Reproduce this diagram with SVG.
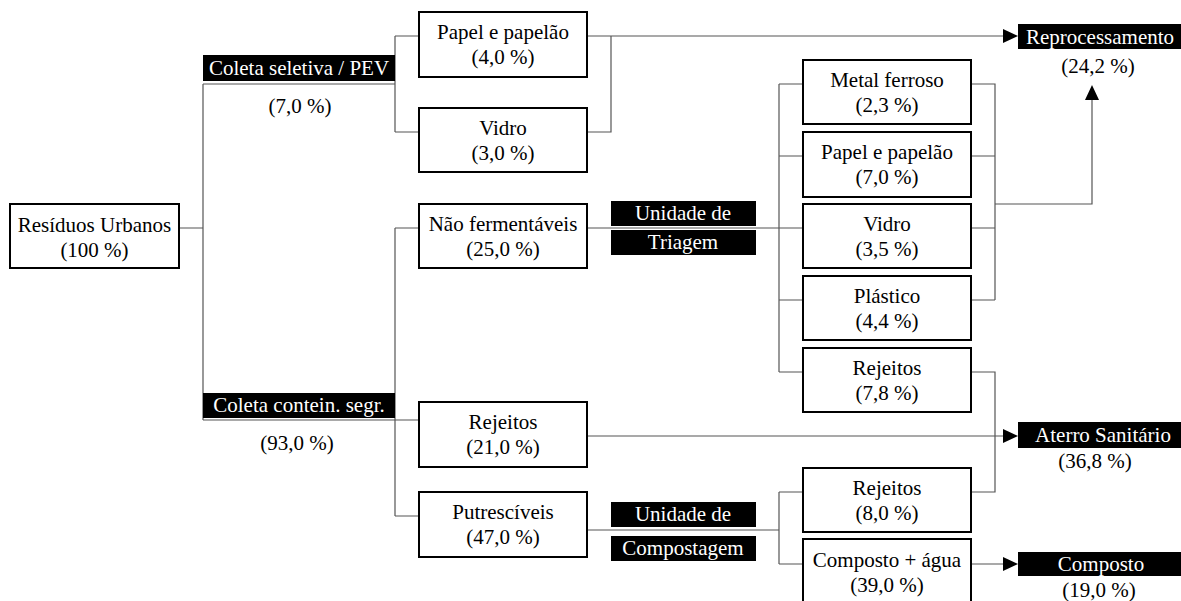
<svg xmlns="http://www.w3.org/2000/svg" width="1181" height="601" viewBox="0 0 1181 601" font-family="'Liberation Serif', 'DejaVu Serif', serif">
  <style>
    .box { fill: #fff; stroke: #000; stroke-width: 2; }
    .tag { fill: #000; }
    .t { font-family: 'Liberation Serif', 'DejaVu Serif', serif; font-size: 21px; fill: #000; text-anchor: middle; }
    .w { fill: #fff; }
    .ln { fill: none; stroke: #555; stroke-width: 1.2; }
    .ah { fill: #000; }
  </style>

  <!-- connectors -->
  <g id="connectors">
    <!-- root splits into two collection streams -->
    <path class="ln" d="M179 228 H203 M203 84 V420 M203 84 H395 M203 420 H395"/>
    <!-- selective collection branches -->
    <path class="ln" d="M395 36 V132 M395 36 H419 M395 132 H419"/>
    <!-- container collection branches -->
    <path class="ln" d="M395 228 V516 M395 228 H419 M395 420 H419 M395 516 H419"/>
    <!-- selective items to reprocessing -->
    <path class="ln" d="M587 36 H1004 M587 132 H611 V36"/>
    <!-- sorting unit -->
    <path class="ln" d="M587 228 H779 M779 84 V372 M779 84 H803 M779 156 H803 M779 228 H803 M779 300 H803 M779 372 H803"/>
    <path class="ln" d="M971 84 H995 V300 M971 156 H995 M971 228 H995 M971 300 H995 M995 204 H1092 V99"/>
    <!-- rejects to landfill -->
    <path class="ln" d="M587 436 H1004 M971 372 H995 V492 H971"/>
    <!-- composting unit -->
    <path class="ln" d="M587 530 H779 M779 492 V564 M779 492 H803 M779 564 H803 M971 564 H1004"/>
    <!-- arrowheads -->
    <polygon class="ah" points="1003,29 1018,36 1003,43"/>
    <polygon class="ah" points="1085,100 1092,85 1099,100"/>
    <polygon class="ah" points="1003,429 1018,436 1003,443"/>
    <polygon class="ah" points="1003,557 1018,564 1003,571"/>
  </g>

  <g id="residuos-urbanos">
    <rect class="box" x="10" y="204" width="169" height="64"/>
    <text class="t" x="94.5" y="232">Resíduos Urbanos</text>
    <text class="t" x="94.5" y="257">(100 %)</text>
  </g>

  <g id="coleta-seletiva">
    <rect class="tag" x="203" y="55" width="192" height="26"/>
    <text class="t w" x="299" y="75">Coleta seletiva / PEV</text>
    <text class="t" x="300" y="113">(7,0 %)</text>
  </g>

  <g id="coleta-contein">
    <rect class="tag" x="203" y="393" width="192" height="25"/>
    <text class="t w" x="299" y="412">Coleta contein. segr.</text>
    <text class="t" x="297" y="450">(93,0 %)</text>
  </g>

  <g id="papel-pev">
    <rect class="box" x="419" y="12" width="168" height="65"/>
    <text class="t" x="503" y="39">Papel e papelão</text>
    <text class="t" x="503" y="64">(4,0 %)</text>
  </g>

  <g id="vidro-pev">
    <rect class="box" x="419" y="108" width="168" height="64"/>
    <text class="t" x="503" y="135">Vidro</text>
    <text class="t" x="503" y="160">(3,0 %)</text>
  </g>

  <g id="nao-fermentaveis">
    <rect class="box" x="419" y="204" width="168" height="64"/>
    <text class="t" x="503" y="231">Não fermentáveis</text>
    <text class="t" x="503" y="256">(25,0 %)</text>
  </g>

  <g id="rejeitos-coleta">
    <rect class="box" x="419" y="402" width="168" height="65"/>
    <text class="t" x="503" y="429">Rejeitos</text>
    <text class="t" x="503" y="454">(21,0 %)</text>
  </g>

  <g id="putresciveis">
    <rect class="box" x="419" y="492" width="168" height="65"/>
    <text class="t" x="503" y="519">Putrescíveis</text>
    <text class="t" x="503" y="544">(47,0 %)</text>
  </g>

  <g id="unidade-triagem">
    <rect class="tag" x="611" y="201" width="145" height="25"/>
    <text class="t w" x="683" y="220">Unidade de</text>
    <rect class="tag" x="611" y="230" width="145" height="25"/>
    <text class="t w" x="683" y="249">Triagem</text>
  </g>

  <g id="unidade-compostagem">
    <rect class="tag" x="611" y="502" width="145" height="25"/>
    <text class="t w" x="683" y="521">Unidade de</text>
    <rect class="tag" x="611" y="536" width="145" height="25"/>
    <text class="t w" x="683" y="555">Compostagem</text>
  </g>

  <g id="metal-ferroso">
    <rect class="box" x="803" y="60" width="168" height="64"/>
    <text class="t" x="887" y="87">Metal ferroso</text>
    <text class="t" x="887" y="112">(2,3 %)</text>
  </g>

  <g id="papel-triagem">
    <rect class="box" x="803" y="132" width="168" height="65"/>
    <text class="t" x="887" y="159">Papel e papelão</text>
    <text class="t" x="887" y="184">(7,0 %)</text>
  </g>

  <g id="vidro-triagem">
    <rect class="box" x="803" y="204" width="168" height="64"/>
    <text class="t" x="887" y="231">Vidro</text>
    <text class="t" x="887" y="256">(3,5 %)</text>
  </g>

  <g id="plastico">
    <rect class="box" x="803" y="276" width="168" height="64"/>
    <text class="t" x="887" y="303">Plástico</text>
    <text class="t" x="887" y="328">(4,4 %)</text>
  </g>

  <g id="rejeitos-triagem">
    <rect class="box" x="803" y="348" width="168" height="64"/>
    <text class="t" x="887" y="375">Rejeitos</text>
    <text class="t" x="887" y="400">(7,8 %)</text>
  </g>

  <g id="rejeitos-compostagem">
    <rect class="box" x="803" y="468" width="168" height="64"/>
    <text class="t" x="887" y="495">Rejeitos</text>
    <text class="t" x="887" y="520">(8,0 %)</text>
  </g>

  <g id="composto-agua">
    <rect class="box" x="803" y="539" width="168" height="66"/>
    <text class="t" x="887" y="567">Composto + água</text>
    <text class="t" x="887" y="592">(39,0 %)</text>
  </g>

  <g id="reprocessamento">
    <rect class="tag" x="1018" y="24" width="163" height="25"/>
    <text class="t w" x="1100" y="44">Reprocessamento</text>
    <text class="t" x="1098" y="73">(24,2 %)</text>
  </g>

  <g id="aterro-sanitario">
    <rect class="tag" x="1018" y="422" width="163" height="26"/>
    <text class="t w" x="1103" y="442">Aterro Sanitário</text>
    <text class="t" x="1095" y="468">(36,8 %)</text>
  </g>

  <g id="composto">
    <rect class="tag" x="1018" y="552" width="163" height="24"/>
    <text class="t w" x="1101" y="571">Composto</text>
    <text class="t" x="1099" y="597">(19,0 %)</text>
  </g>
</svg>
